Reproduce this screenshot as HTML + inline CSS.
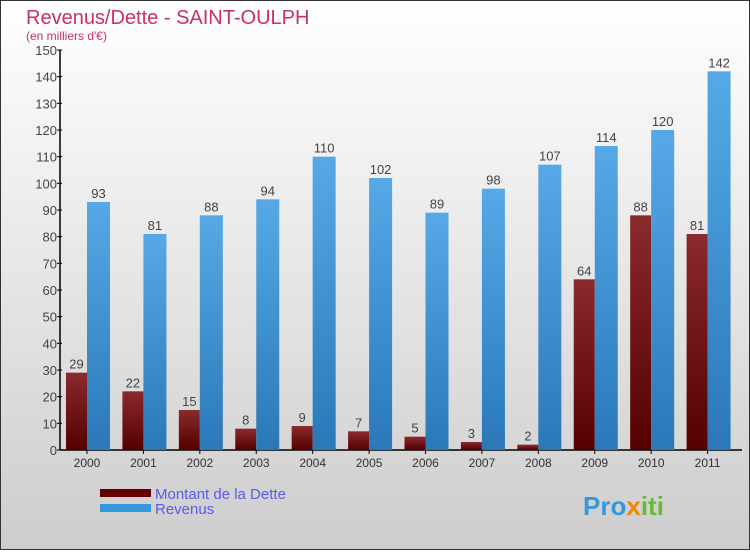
<!DOCTYPE html>
<html><head><meta charset="utf-8"><style>
body{margin:0;width:750px;height:550px;overflow:hidden;font-family:"Liberation Sans",sans-serif}
</style></head><body>
<svg id="chart" width="750" height="550" xmlns="http://www.w3.org/2000/svg" font-family="Liberation Sans, sans-serif">
<defs>
<linearGradient id="bg" x1="0" y1="0" x2="0" y2="1"><stop offset="0" stop-color="#ffffff"/><stop offset="1" stop-color="#cdcdcd"/></linearGradient>
<linearGradient id="gd" x1="0" y1="0" x2="0" y2="1"><stop offset="0" stop-color="#8a2a2e"/><stop offset="1" stop-color="#550000"/></linearGradient>
<linearGradient id="gr" x1="0" y1="0" x2="0" y2="1"><stop offset="0" stop-color="#56a9e6"/><stop offset="1" stop-color="#2a78b8"/></linearGradient>
</defs>
<rect x="0.5" y="0.5" width="749" height="549" fill="url(#bg)" stroke="#333" stroke-width="1"/>
<text x="26" y="24" font-size="20" fill="#c8306a">Revenus/Dette - SAINT-OULPH</text>
<text x="26" y="40" font-size="12" fill="#c8306a">(en milliers d'€)</text>
<g id="axes"></g>
<g id="bars"></g>
<g>
<rect x="100" y="489" width="51" height="8" fill="#660000"/>
<text x="155" y="499" font-size="15" fill="#5a5aee">Montant de la Dette</text>
<rect x="100" y="504" width="51" height="8" fill="#3399dd"/>
<text x="155" y="514" font-size="15" fill="#5a5aee">Revenus</text>
</g>
<text x="583" y="515" font-size="26" font-weight="bold" fill="#3399dd">Pro<tspan fill="#ee8800">x</tspan><tspan fill="#66bb33">iti</tspan></text>
</svg>
<script>
const years=["2000","2001","2002","2003","2004","2005","2006","2007","2008","2009","2010","2011"];
const dette=[29,22,15,8,9,7,5,3,2,64,88,81];
const revenus=[93,81,88,94,110,102,89,98,107,114,120,142];
const yTicks=[0,10,20,30,40,50,60,70,80,90,100,110,120,130,140,150];
const NS="http://www.w3.org/2000/svg";
const x0=60,x1=742,y0=450,yTop=50,ymax=150;
const y=v=>y0-(v/ymax)*(y0-yTop);
const gw=(x1-x0-5)/years.length;
const xc=i=>x0+27+i*gw;
function mk(t,a,p){const e=document.createElementNS(NS,t);for(const k in a)e.setAttribute(k,a[k]);p.appendChild(e);return e;}
const ax=document.getElementById('axes'),bg=document.getElementById('bars');
const yl=mk('line',{x1:x0,y1:y0,x2:x0,y2:yTop,stroke:'#000','stroke-width':1.5},ax);


const xl=mk('line',{x1:x0,y1:y0,x2:x1,y2:y0,stroke:'#000','stroke-width':1.5},ax);


yTicks.forEach(v=>{
 const t=mk('line',{x1:x0-3,x2:x0+2,y1:y(v),y2:y(v),stroke:'#000'},ax);
 
 
 const l=mk('text',{x:x0-3,y:y(v)+5,'font-size':13,fill:'#444','text-anchor':'end'},ax);
 l.textContent=v;
 
 
});
years.forEach((yr,i)=>{
 const c=xc(i);
 const t=mk('line',{x1:c,x2:c,y1:y0,y2:y0+4,stroke:'#000'},ax);
 
 
 const l=mk('text',{x:c,y:y0+17,'font-size':12,fill:'#333','text-anchor':'middle'},ax);
 l.textContent=yr;
 
 
 const bd=mk('rect',{x:c-21,y:y(dette[i]),width:21,height:y0-y(dette[i]),fill:'url(#gd)'},bg);
 
 
 const br=mk('rect',{x:c,y:y(revenus[i]),width:23,height:y0-y(revenus[i]),fill:'url(#gr)'},bg);
 
 
 const ld=mk('text',{x:c-10.5,y:y(dette[i])-4,'font-size':13,fill:'#444','text-anchor':'middle'},bg);
 ld.textContent=dette[i];
 
 
 const lr=mk('text',{x:c+11.5,y:y(revenus[i])-4,'font-size':13,fill:'#444','text-anchor':'middle'},bg);
 lr.textContent=revenus[i];
 
 
});
</script>
</body></html>
